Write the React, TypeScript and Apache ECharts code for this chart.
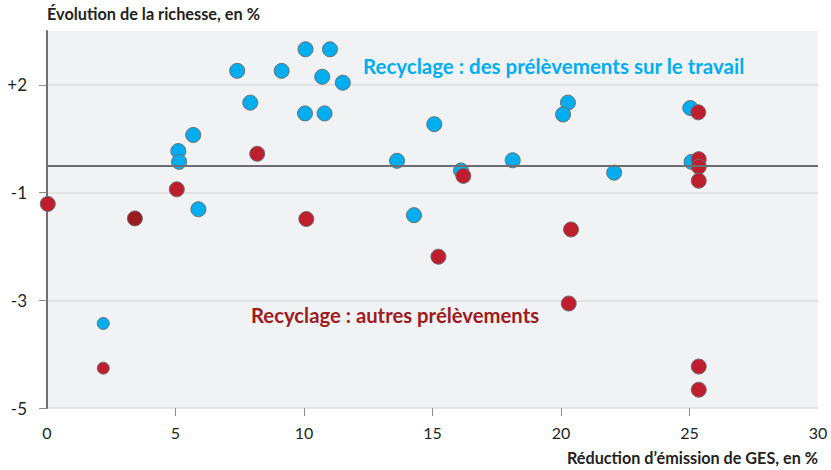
import React, { useEffect, useRef } from "react";
import * as echarts from "echarts";

// Réduction d'émission de GES (%) / Évolution de la richesse (axis units)
const bluePoints: [number, number][] = [
  [5.11, -0.23], [5.14, -0.43], [5.69, 0.07], [5.89, -1.31],
  [7.40, 1.26], [7.91, 0.67], [9.13, 1.26], [10.06, 1.66], [11.01, 1.66],
  [10.71, 1.15], [11.51, 1.04], [10.04, 0.47], [10.80, 0.47],
  [13.62, -0.41], [14.28, -1.42], [15.07, 0.27], [16.11, -0.59],
  [18.12, -0.40], [20.27, 0.67], [20.08, 0.45], [22.07, -0.63],
  [25.03, 0.57], [25.08, -0.43],
];
const blueSmallPoints: [number, number][] = [[2.19, -3.43]];
const redPoints: [number, number][] = [
  [0.03, -1.21], [5.05, -0.94], [8.18, -0.28], [10.09, -1.49],
  [15.23, -2.19], [16.2, -0.69], [20.39, -1.685], [20.3, -3.06],
  [25.34, 0.49], [25.36, -0.38], [25.36, -0.52], [25.36, -0.78],
  [25.36, -4.23], [25.36, -4.66],
];
const redSmallPoints: [number, number][] = [[2.19, -4.26]];
const darkRedPoints: [number, number][] = [[3.42, -1.48]];

const xTicks = [0, 5, 10, 15, 20, 25, 30];
const yTickValues = [-5, -3, -1, 1];
const yTickLabels = ["-5", "-3", "-1", "+2"];
const referenceLine = -0.5;

const title = "Évolution de la richesse, en %";
const xName = "Réduction d’émission de GES, en %";
const blueLabel = "Recyclage : des prélèvements sur le travail";
const redLabel = "Recyclage : autres prélèvements";

const BLUE = "#00aeef";
const RED = "#be1e2d";
const DARKRED = "#9a1b1f";
const BORDER = "#6d6e71";
const FONT = "Lato";

export default function App() {
  const ref = useRef<HTMLDivElement>(null);
  useEffect(() => {
    if (!ref.current) return;
    const chart = echarts.init(ref.current, null, { renderer: "svg" });
    const pointStyle = (color: string) => ({
      color,
      borderColor: BORDER,
      borderWidth: 1,
      opacity: 1,
    });
    chart.setOption({
      animation: false,
      backgroundColor: "#ffffff",
      grid: {
        left: 47,
        right: 13,
        top: 31,
        bottom: 62,
        show: true,
        backgroundColor: "#f1f2f4",
        borderWidth: 0,
      },
      xAxis: {
        type: "value",
        min: 0,
        max: 30,
        interval: 5,
        axisLine: { show: false, onZero: false },
        axisTick: {
          show: true,
          length: 8,
          lineStyle: { color: "#8a8b8e", width: 1 },
          customValues: xTicks.slice(1, 6),
        },
        axisLabel: {
          customValues: xTicks,
          color: "#231f20",
          fontFamily: FONT,
          fontSize: 16,
          margin: 16,
        },
        splitLine: { show: false },
      },
      yAxis: {
        type: "value",
        min: -5,
        max: 2,
        axisLine: { show: true, onZero: false, lineStyle: { color: BORDER, width: 2 } },
        axisTick: {
          show: true,
          length: 8,
          customValues: yTickValues,
          lineStyle: { color: "#8a8b8e", width: 1 },
        },
        axisLabel: {
          customValues: yTickValues,
          formatter: (v: number) => {
            const i = yTickValues.indexOf(v);
            return i >= 0 ? yTickLabels[i] : "";
          },
          color: "#231f20",
          fontFamily: FONT,
          fontSize: 17,
          margin: 20,
        },
        splitLine: { show: true, lineStyle: { color: "#dcdde0", width: 1.5 } },
      },
      graphic: [
        {
          type: "text",
          left: 47,
          top: 5,
          style: { text: title, fill: "#231f20", font: `bold 16.3px ${FONT}` },
        },
        {
          type: "text",
          right: 13,
          top: 449,
          style: { text: xName, fill: "#231f20", font: `bold 16.2px ${FONT}` },
        },
        {
          type: "text",
          left: 363,
          top: 55,
          z: 10,
          style: { text: blueLabel, fill: BLUE, font: `bold 20.5px ${FONT}` },
        },
        {
          type: "text",
          left: 251,
          top: 305,
          z: 10,
          style: { text: redLabel, fill: "#9e1b22", font: `bold 20.3px ${FONT}` },
        },
      ],
      series: [
        {
          type: "scatter",
          data: [],
          silent: true,
          markLine: {
            silent: true,
            symbol: "none",
            label: { show: false },
            lineStyle: { color: BORDER, width: 2, type: "solid" },
            data: [{ yAxis: referenceLine }],
          },
        },
        {
          type: "scatter",
          data: bluePoints,
          symbolSize: 15,
          itemStyle: pointStyle(BLUE),
          z: 3,
        },
        {
          type: "scatter",
          data: blueSmallPoints,
          symbolSize: 12,
          itemStyle: pointStyle(BLUE),
          z: 3,
        },
        {
          type: "scatter",
          data: redPoints,
          symbolSize: 15,
          itemStyle: pointStyle(RED),
          z: 4,
        },
        {
          type: "scatter",
          data: redSmallPoints,
          symbolSize: 12,
          itemStyle: pointStyle(RED),
          z: 4,
        },
        {
          type: "scatter",
          data: darkRedPoints,
          symbolSize: 15,
          itemStyle: pointStyle(DARKRED),
          z: 4,
        },
      ],
    });
    return () => chart.dispose();
  }, []);
  return (
    <div
      ref={ref}
      style={{ position: "fixed", left: 0, top: 0, width: 831, height: 470 }}
    />
  );
}
